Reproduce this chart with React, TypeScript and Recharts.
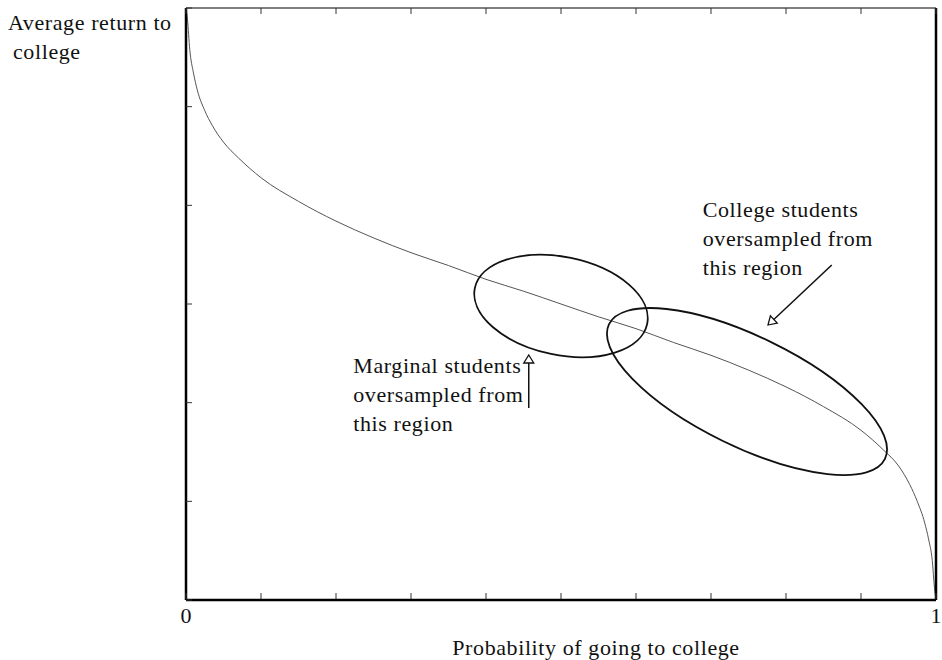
import React from "react"
import {
  ComposedChart,
  Line,
  XAxis,
  YAxis,
  ReferenceDot,
  ReferenceLine,
  Label,
} from "recharts"

// curve: probability of going to college vs average return
const probability = [
  0, 0.002, 0.005, 0.01, 0.015, 0.025, 0.035, 0.05, 0.07, 0.1, 0.15, 0.2, 0.25,
  0.3, 0.35, 0.4, 0.45, 0.5, 0.55, 0.6, 0.65, 0.7, 0.75, 0.8, 0.85, 0.9, 0.93,
  0.95, 0.965, 0.975, 0.985, 0.99, 0.995, 0.998, 1,
]
const avgReturn = [
  6.0, 5.88, 5.58, 5.34, 5.17, 4.96, 4.81, 4.64, 4.48, 4.28, 4.04, 3.84, 3.67,
  3.52, 3.39, 3.25, 3.13, 3.0, 2.87, 2.75, 2.61, 2.48, 2.33, 2.16, 1.96, 1.72, 1.52,
  1.36, 1.17, 1.0, 0.78, 0.62, 0.4, 0.12, 0,
]

const xTicks = [0, 0.1, 0.2, 0.3, 0.4, 0.5, 0.6, 0.7, 0.8, 0.9, 1]
const xTickLabels = ["0", "", "", "", "", "", "", "", "", "", "1"]
const yTicks = [0, 1, 2, 3, 4, 5, 6]

// annotation ellipses: centre in data units
const ellipseCenters = [
  { x: 0.5, y: 2.98 },
  { x: 0.748, y: 2.113 },
]
// arrows: tail -> tip, data units
const arrows = [
  { from: { x: 0.457, y: 1.946 }, to: { x: 0.457, y: 2.483 } },
  { from: { x: 0.861, y: 3.395 }, to: { x: 0.776, y: 2.787 } },
]
const notes = [
  { x: 0.223, y: 2.3, lines: ["Marginal students", "oversampled from", "this region"] },
  { x: 0.689, y: 3.88, lines: ["College students", "oversampled from", "this region"] },
]

const data = probability.map((p, i) => ({ p, r: avgReturn[i] }))

const FONT = '"Liberation Serif", "Times New Roman", serif'
const FS = 22
const LS = 0.6

// pixel sizes for the ellipses
const ellipseShapes = [
  { rx: 88, ry: 49, rot: 11.7 },
  { rx: 153.5, ry: 55, rot: 26 },
]

const BottomTick = ({ x, y, index }: any) => (
  <g>
    <line x1={x} y1={y - 1} x2={x} y2={y - 7} stroke="#333" strokeWidth={1} />
    {xTickLabels[index] ? (
      <text x={x} y={y + 23} textAnchor="middle" fontFamily={FONT} fontSize={FS} fill="#111">
        {xTickLabels[index]}
      </text>
    ) : null}
  </g>
)
const TopTick = ({ x, y }: any) => (
  <line x1={x} y1={y} x2={x} y2={y + 6} stroke="#333" strokeWidth={1} />
)
const LeftTick = ({ x, y }: any) => (
  <line x1={x} y1={y} x2={x + 6} y2={y} stroke="#333" strokeWidth={1} />
)
const RightTick = ({ x, y }: any) => (
  <line x1={x} y1={y} x2={x - 6} y2={y} stroke="#333" strokeWidth={1} />
)

const ArrowShape = (props: any) => {
  const { x1, y1, x2, y2 } = props
  const dx = x2 - x1
  const dy = y2 - y1
  const len = Math.sqrt(dx * dx + dy * dy) || 1
  const ux = dx / len
  const uy = dy / len
  const hl = 8
  const hw = 5
  const bx = x2 - ux * hl
  const by = y2 - uy * hl
  const pts = `${x2},${y2} ${bx - uy * hw},${by + ux * hw} ${bx + uy * hw},${by - ux * hw}`
  return (
    <g>
      <line x1={x1} y1={y1} x2={bx} y2={by} stroke="#111" strokeWidth={1.5} />
      <polygon points={pts} fill="#fff" stroke="#111" strokeWidth={1.3} />
    </g>
  )
}

export default function App() {
  return (
    <div style={{ position: "absolute", left: 0, top: 0, background: "#fff" }}>
      <ComposedChart
        width={942}
        height={660}
        data={data}
        margin={{ top: 7, right: 5, bottom: 59, left: 185 }}
      >
        <XAxis
          xAxisId="b"
          dataKey="p"
          type="number"
          domain={[0, 1]}
          ticks={xTicks}
          interval={0}
          height={1}
          tickSize={0}
          tickMargin={0}
          tickLine={false}
          tick={<BottomTick />}
          axisLine={{ stroke: "#000", strokeWidth: 2.5 }}
        >
          <Label
            content={() => (
              <text x={596} y={655} textAnchor="middle" fontFamily={FONT} fontSize={FS} letterSpacing={LS} fill="#111">
                Probability of going to college
              </text>
            )}
          />
        </XAxis>
        <XAxis
          xAxisId="t"
          orientation="top"
          dataKey="p"
          type="number"
          domain={[0, 1]}
          ticks={xTicks}
          interval={0}
          height={1}
          tickSize={0}
          tickMargin={0}
          tickLine={false}
          tick={<TopTick />}
          axisLine={{ stroke: "#000", strokeWidth: 1.2 }}
        />
        <YAxis
          yAxisId="l"
          type="number"
          domain={[0, 6]}
          ticks={yTicks}
          interval={0}
          width={1}
          tickSize={0}
          tickMargin={0}
          tickLine={false}
          tick={<LeftTick />}
          axisLine={{ stroke: "#000", strokeWidth: 2.5 }}
        >
          <Label
            content={() => (
              <text fontFamily={FONT} fontSize={FS} letterSpacing={LS} fill="#111">
                <tspan x={8} y={30}>Average return to</tspan>
                <tspan x={13} y={59}>college</tspan>
              </text>
            )}
          />
        </YAxis>
        <YAxis
          yAxisId="r"
          orientation="right"
          type="number"
          domain={[0, 6]}
          ticks={yTicks}
          interval={0}
          width={1}
          tickSize={0}
          tickMargin={0}
          tickLine={false}
          tick={<RightTick />}
          axisLine={{ stroke: "#000", strokeWidth: 2.5 }}
        />
        <Line
          xAxisId="b"
          yAxisId="l"
          type="monotone"
          dataKey="r"
          stroke="#555"
          strokeWidth={1}
          dot={false}
          activeDot={false}
          isAnimationActive={false}
        />
        {ellipseCenters.map((c, i) => (
          <ReferenceDot
            key={"e" + i}
            xAxisId="b"
            yAxisId="l"
            x={c.x}
            y={c.y}
            ifOverflow="visible"
            shape={(p: any) => (
              <ellipse
                cx={p.cx}
                cy={p.cy}
                rx={ellipseShapes[i].rx}
                ry={ellipseShapes[i].ry}
                transform={`rotate(${ellipseShapes[i].rot} ${p.cx} ${p.cy})`}
                fill="none"
                stroke="#111"
                strokeWidth={1.8}
              />
            )}
          />
        ))}
        {arrows.map((a, i) => (
          <ReferenceLine
            key={"a" + i}
            xAxisId="b"
            yAxisId="l"
            segment={[a.from, a.to]}
            ifOverflow="visible"
            shape={<ArrowShape />}
          />
        ))}
        {notes.map((n, i) => (
          <ReferenceDot
            key={"n" + i}
            xAxisId="b"
            yAxisId="l"
            x={n.x}
            y={n.y}
            ifOverflow="visible"
            shape={(p: any) => (
              <text fontFamily={FONT} fontSize={FS} letterSpacing={LS} fill="#111">
                {n.lines.map((t, j) => (
                  <tspan key={j} x={p.cx} y={p.cy + j * 29}>
                    {t}
                  </tspan>
                ))}
              </text>
            )}
          />
        ))}
      </ComposedChart>
    </div>
  )
}
